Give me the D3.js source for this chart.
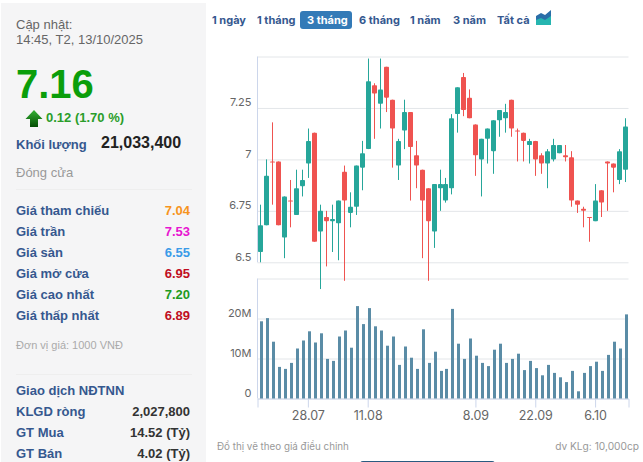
<!DOCTYPE html>
<html>
<head>
<meta charset="utf-8">
<script src="https://cdn.jsdelivr.net/npm/d3@7"></script>
<style>
    html, body { margin: 0; padding: 0; background: #fff; overflow: hidden; }
    text { font-family: "Liberation Sans", Arial, sans-serif; }
    .chart-text text, text.chart-text { font-family: Inter, "Liberation Sans", sans-serif; }
</style>
</head>
<body>
<div id="chart"></div>
<script>
// trading days, oldest first
const dates = ['16.07','17.07','18.07','21.07','22.07','23.07','24.07','25.07','28.07','29.07','30.07','31.07','1.08','4.08','5.08','6.08','7.08','8.08','11.08','12.08','13.08','14.08','15.08','18.08','19.08','20.08','21.08','22.08','25.08','26.08','27.08','28.08','29.08','3.09','4.09','5.09','8.09','9.09','10.09','11.09','12.09','15.09','16.09','17.09','18.09','19.09','22.09','23.09','24.09','25.09','26.09','29.09','30.09','1.10','2.10','3.10','6.10','7.10','8.10','9.10','10.10','13.10'];
const open = [6.55,6.68,6.99,6.99,6.62,6.80,6.73,6.87,6.98,7.13,6.65,6.72,6.70,6.69,6.94,6.74,6.77,6.96,7.05,7.36,7.27,7.45,7.29,6.97,7.14,7.23,7.02,6.95,6.86,6.65,6.86,6.80,6.86,7.22,7.40,7.30,7.17,7.00,7.10,7.04,7.19,7.20,7.29,7.14,7.13,7.07,7.09,7.02,6.98,7.00,7.03,7.02,7.01,6.80,6.76,6.72,6.70,6.85,6.99,6.98,6.90,6.95];
const high = [6.78,7.00,7.18,6.99,6.82,6.90,6.95,6.95,7.15,7.13,6.78,6.75,6.78,6.80,6.97,6.84,6.97,7.09,7.49,7.37,7.49,7.45,7.29,7.10,7.29,7.23,7.09,6.95,6.86,6.88,6.95,6.91,7.22,7.35,7.42,7.34,7.17,7.10,7.15,7.19,7.24,7.27,7.29,7.15,7.13,7.10,7.09,7.03,7.05,7.10,7.07,7.07,7.04,6.80,6.77,6.72,6.88,6.85,6.99,6.98,7.05,7.20];
const low = [6.50,6.68,6.78,6.68,6.52,6.67,6.73,6.82,6.91,6.60,6.37,6.48,6.55,6.51,6.41,6.67,6.73,6.85,7.05,7.10,7.15,7.23,6.96,6.90,7.05,6.80,6.86,6.52,6.41,6.57,6.75,6.79,6.83,7.13,7.21,7.20,6.92,6.82,6.98,6.93,7.11,7.13,7.11,6.99,6.99,6.98,6.92,6.93,6.86,6.99,7.03,6.99,6.77,6.74,6.67,6.60,6.70,6.72,6.75,6.84,6.88,6.89];
const close = [6.68,6.92,6.99,6.68,6.82,6.80,6.86,6.90,7.09,6.60,6.75,6.70,6.71,6.80,6.80,6.77,6.97,7.03,7.38,7.32,7.34,7.30,7.15,7.09,7.23,7.06,6.97,6.80,6.70,6.88,6.88,6.88,7.20,7.35,7.24,7.20,7.02,7.10,7.15,7.19,7.24,7.23,7.15,7.14,7.09,7.09,7.00,6.98,7.04,7.07,7.07,7.01,6.80,6.78,6.75,6.72,6.80,6.79,6.98,6.96,7.04,7.16];
const volume = [19.3,20.1,14.2,7.9,7.4,8.9,12.5,14.5,16.8,14.0,16.3,9.9,9.4,15.5,17.0,12.7,23.1,18.6,22.6,18.05,17.0,13.2,15.5,8.4,13.0,10.2,7.4,17.3,8.9,11.7,6.9,7.4,22.4,13.7,9.9,15.0,10.7,8.9,8.1,12.2,13.7,8.9,9.9,11.2,7.1,9.4,7.6,5.8,8.4,6.4,5.3,4.1,6.9,1.8,6.4,8.1,9.2,6.9,10.9,14.2,12.5,21.03];

const dateTicks = ['28.07','11.08','8.09','22.09','6.10'];
const priceTicks = [6.5,6.75,7,7.25,7.5];
const volumeTicks = [0,10,20,30];

const ranges = ['1 ngày','1 tháng','3 tháng','6 tháng','1 năm','3 năm','Tất cả'];
const activeRange = '3 tháng';

const quoteLabels = ['Giá tham chiếu','Giá trần','Giá sàn','Giá mở cửa','Giá cao nhất','Giá thấp nhất'];
const quoteValues = ['7.04','7.53','6.55','6.95','7.20','6.89'];
const quoteColors = ['#f7941d','#e815d0','#3a9be8','#c00d1e','#1d9a1d','#c00d1e'];
const foreignLabels = ['KLGD ròng','GT Mua','GT Bán'];
const foreignValues = ['2,027,800','14.52 (Tỷ)','4.02 (Tỷ)'];

const blue = '#35588f', upColor = '#26a69a', downColor = '#ef5350';

const svg = d3.select('#chart').append('svg')
    .attr('width', 643)
    .attr('height', 462)
    .style('display', 'block');

// left panel
svg.append('rect').attr('x', 1).attr('y', 3).attr('width', 205).attr('height', 459).attr('fill', '#f5f5f6');

const label = (x, y, txt, size, color, weight, anchor) => svg.append('text')
    .attr('x', x).attr('y', y).text(txt)
    .attr('font-size', size).attr('fill', color)
    .attr('font-weight', weight || 'normal')
    .attr('text-anchor', anchor || 'start');

label(16, 29, 'Cập nhật:', 13, '#666');
label(16, 44, '14:45, T2, 13/10/2025', 13, '#666');
label(16, 98, '7.16', 40, '#0b9e0b', 'bold');
label(46, 122, '0.12 (1.70 %)', 13, '#2a9d2a', 'bold');
label(16, 149, 'Khối lượng', 13, blue, 'bold');
label(101, 148, '21,033,400', 16, '#222', 'bold');
label(16, 177, 'Đóng cửa', 13, '#999');

const defs = svg.append('defs');
const arrowFill = defs.append('linearGradient').attr('id', 'arrow-fill').attr('x1', 0).attr('y1', 0).attr('x2', 0).attr('y2', 1);
arrowFill.append('stop').attr('offset', '0').attr('stop-color', '#35b335');
arrowFill.append('stop').attr('offset', '1').attr('stop-color', '#044d04');
svg.append('path').attr('d', 'M34,110 L42.5,119 L38,119 L38,127 L30,127 L30,119 L25.5,119 Z').attr('fill', 'url(#arrow-fill)');

svg.append('line').attr('x1', 16).attr('x2', 192).attr('y1', 189.5).attr('y2', 189.5).attr('stroke', '#eeeeee');
svg.append('line').attr('x1', 16).attr('x2', 192).attr('y1', 374.5).attr('y2', 374.5).attr('stroke', '#eeeeee');

quoteLabels.forEach((d, i) => {
    label(16, 215 + i * 21, d, 13, blue, 'bold');
    label(190, 215 + i * 21, quoteValues[i], 13, quoteColors[i], 'bold', 'end');
});
label(16, 349, 'Đơn vị giá: 1000 VNĐ', 11, '#aaa');
label(16, 395, 'Giao dịch NĐTNN', 13, blue, 'bold');
foreignLabels.forEach((d, i) => {
    label(16, 416 + i * 21, d, 13, blue, 'bold');
    label(190, 416 + i * 21, foreignValues[i], 13, '#333', 'bold', 'end');
});

// range buttons
const rangeX = [212, 257, 307, 359, 410, 453, 497];
svg.append('rect').attr('x', 300).attr('y', 11).attr('width', 52).attr('height', 18).attr('rx', 3).attr('fill', '#337ab7');
ranges.forEach((d, i) => {
    label(rangeX[i], 24, d, 11, d === activeRange ? '#fff' : blue, 'bold').attr('class', 'chart-text');
});
svg.append('path').attr('d', 'M536,25 L536,16 L541,13 L545,15 L551,10 L551,25 Z').attr('fill', '#2a6ea8');
svg.append('path').attr('d', 'M536,25 L536,20 L541,18 L545,20 L551,16 L551,25 Z').attr('fill', '#26b5b0');

// scales
const x = d3.scaleBand().domain(dates).range([257.5, 628.5]);
const y = d3.scaleLinear().domain([6.5, 7.5]).range([262.3, 56.5]);
const yVol = d3.scaleLinear().domain([0, 30]).range([398.5, 278.5]);

const gridColor = '#e3e6e9', axisColor = '#ccd6eb';

const styleAxis = g => {
    g.attr('class', 'chart-text');
    g.select('.domain').remove();
    g.selectAll('.tick line').attr('stroke', gridColor);
    g.selectAll('.tick text')
        .attr('x', -6).attr('dy', -2)
        .attr('font-size', 11).attr('fill', '#666');
};

const yAxis = d3.axisLeft(y).tickValues(priceTicks).tickSize(-371).tickFormat(d => d === 7.5 ? '' : d);
svg.append('g').attr('transform', 'translate(257.5,0)').call(yAxis).call(styleAxis);

const volAxis = d3.axisLeft(yVol).tickValues(volumeTicks).tickSize(-371).tickFormat(d => d === 30 ? '' : d === 0 ? '0' : d + 'M');
svg.append('g').attr('transform', 'translate(257.5,0)').call(volAxis).call(styleAxis);

svg.append('line').attr('x1', 257.5).attr('x2', 257.5).attr('y1', y(7.5)).attr('y2', y(6.5)).attr('stroke', axisColor);
svg.append('line').attr('x1', 257.5).attr('x2', 257.5).attr('y1', yVol(30)).attr('y2', yVol(0)).attr('stroke', axisColor);

const xAxis = d3.axisBottom(x).tickValues(dateTicks).tickSize(9).tickPadding(4);
svg.append('g').attr('transform', `translate(0,${yVol(0)})`).call(xAxis).call(g => {
    g.attr('class', 'chart-text');
    g.select('.domain').attr('stroke', axisColor);
    g.selectAll('.tick line').attr('stroke', axisColor);
    g.selectAll('.tick text').attr('font-size', 12.5).attr('fill', '#666');
});

// candles
const cx = d => Math.floor(x(d) + x.bandwidth() / 2) + 0.5;
const rows = dates.map((d, i) => ({date: d, open: open[i], high: high[i], low: low[i], close: close[i], volume: volume[i]}));
const candleColor = d => d.close > d.open ? upColor : downColor;

const candles = svg.append('g').selectAll('g').data(rows).enter().append('g');
candles.append('line')
    .attr('x1', d => cx(d.date))
    .attr('x2', d => cx(d.date))
    .attr('y1', d => y(d.high))
    .attr('y2', d => y(d.low))
    .attr('stroke', candleColor);
candles.append('rect')
    .attr('x', d => cx(d.date) - 2.5)
    .attr('width', 5)
    .attr('y', d => y(Math.max(d.open, d.close)))
    .attr('height', d => Math.max(1, Math.abs(y(d.open) - y(d.close))))
    .attr('rx', 0.8)
    .attr('fill', candleColor);

// volume bars
svg.append('g').selectAll('rect').data(rows).enter().append('rect')
    .attr('x', d => cx(d.date) - 1.5 + 1)
    .attr('width', 3)
    .attr('y', d => yVol(d.volume))
    .attr('height', d => yVol(0) - yVol(d.volume))
    .attr('fill', '#5a8ca6');

// footer
label(217, 450, 'Đổ thị vẽ theo giá điều chỉnh', 9.8, '#999').attr('class', 'chart-text');
label(639, 450, 'dv KLg: 10,000cp', 10.2, '#999', 'normal', 'end').attr('class', 'chart-text');
svg.append('rect').attr('x', 360).attr('y', 461).attr('width', 135).attr('height', 6).attr('rx', 3).attr('fill', '#2a5a80');
</script>
</body>
</html>
